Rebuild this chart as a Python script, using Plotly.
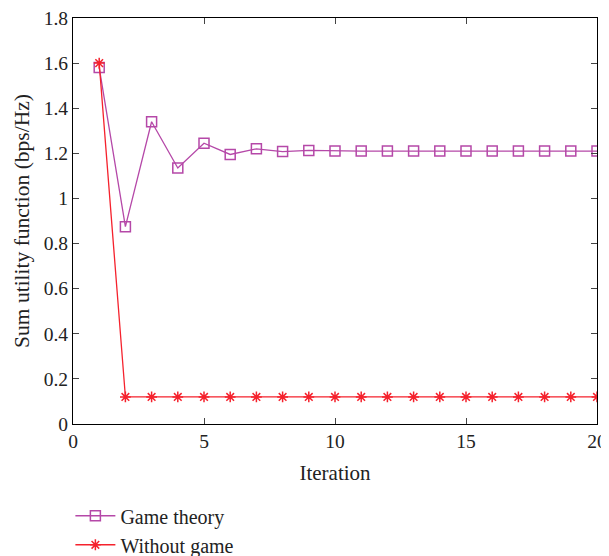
import plotly.graph_objects as go

iterations = list(range(1, 21))
game_theory = [1.58, 0.875, 1.34, 1.135, 1.245, 1.195, 1.22, 1.208, 1.213, 1.21,
               1.21, 1.21, 1.21, 1.21, 1.21, 1.21, 1.21, 1.21, 1.21, 1.21]
without_game = [1.6] + [0.12] * 19

x_ticks = [0, 5, 10, 15, 20]
y_ticks = [0, 0.2, 0.4, 0.6, 0.8, 1.0, 1.2, 1.4, 1.6, 1.8]
y_tick_text = ["0", "0.2", "0.4", "0.6", "0.8", "1", "1.2", "1.4", "1.6", "1.8"]

purple = "#B548A8"
red = "#F5222D"

fig = go.Figure()
fig.add_trace(go.Scatter(
    x=iterations, y=game_theory, name="Game theory", mode="lines+markers",
    line=dict(color=purple, width=1.3),
    marker=dict(symbol="square-open", size=10, color=purple, line=dict(width=1.5, color=purple)),
))
fig.add_trace(go.Scatter(
    x=iterations, y=without_game, name="Without game", mode="lines+markers",
    line=dict(color=red, width=1.3),
    marker=dict(symbol="asterisk-open", size=9, color=red, line=dict(width=1.5, color=red)),
))

font = dict(family="Liberation Serif, Times New Roman, serif", size=19, color="#222222")

# page body has an 8px margin, so the figure is offset to compensate
fig.update_layout(
    width=609, height=556,
    margin=dict(l=65, r=20, t=10, b=140, autoexpand=False),
    paper_bgcolor="white", plot_bgcolor="white",
    font=font,
    showlegend=True,
    legend=dict(x=-0.005, y=-0.178, xanchor="left", yanchor="top", orientation="v",
                font=dict(size=20), tracegroupgap=0, itemwidth=40,
                bgcolor="rgba(0,0,0,0)"),
    xaxis=dict(range=[0, 20], tickvals=x_ticks, ticks="inside", ticklen=6,
               showline=True, linecolor="black", linewidth=1, mirror="ticks",
               showgrid=False, zeroline=False, automargin=False,
               ticklabeloverflow="allow",
               title=dict(text="Iteration", standoff=13, font=dict(size=21)),
               tickfont=dict(size=19.5)),
    yaxis=dict(range=[0, 1.8], tickvals=y_ticks, ticktext=y_tick_text, ticks="inside", ticklen=6,
               showline=True, linecolor="black", linewidth=1, mirror="ticks",
               showgrid=False, zeroline=False, automargin=False,
               ticklabeloverflow="allow",
               title=dict(text="Sum utility function (bps/Hz)", standoff=8, font=dict(size=21.5)),
               tickfont=dict(size=19.5)),
)

fig.write_html("out.html")
